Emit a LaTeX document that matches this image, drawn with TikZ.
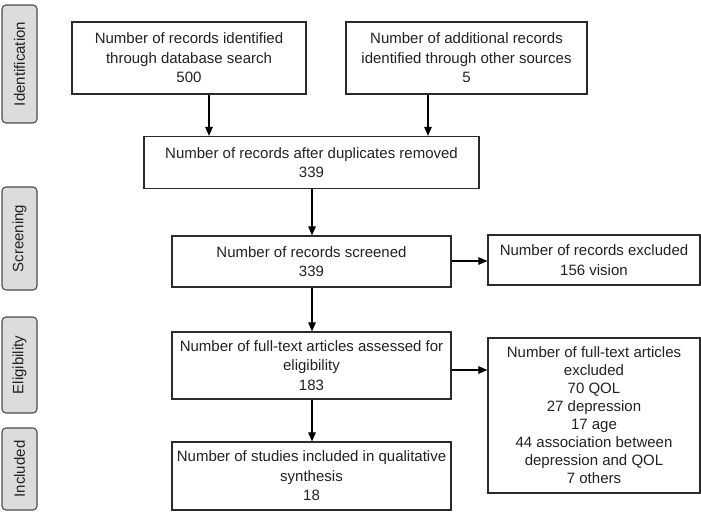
\documentclass[tikz,border=0pt]{standalone}
\usepackage{fontspec}
\setmainfont{Liberation Sans}
\usetikzlibrary{arrows.meta,calc}
\definecolor{boxline}{HTML}{2B2B2B}
\definecolor{labfill}{HTML}{DCDCDC}
\definecolor{labline}{HTML}{4A4A4A}
\definecolor{txt}{HTML}{222222}
\begin{document}
\begin{tikzpicture}[x=1pt,y=-1pt,
  box/.style={draw=boxline,line width=1.2pt,fill=white,align=center,inner sep=0pt,
    text=txt,font=\fontsize{15}{19.5}\selectfont},
  stage/.style={draw=labline,line width=1.1pt,fill=labfill,rounded corners=4pt,
    inner sep=0pt,minimum width=35pt,text=txt,font=\fontsize{15}{18}\selectfont},
  stagetext/.style={rotate=90,text=txt,font=\fontsize{15}{18}\selectfont},
  arr/.style={draw=black,line width=1.1pt,-{Triangle[length=9pt,width=7.5pt]}}]
\useasboundingbox (0,0) rectangle (701,513);
\fill[white] (0,0) rectangle (701,513);
% stage labels
\node[stage,minimum height=118pt] (l1) at (19.5,64) {};
\node[stagetext] (t1) at (l1.center) {Identification};
\node[stage,minimum height=103pt] (l2) at (19.5,238.5) {};
\node[stagetext] (t2) at (l2.center) {Screening};
\node[stage,minimum height=96pt] (l3) at (19.5,365) {};
\node[stagetext] (t3) at (l3.center) {Eligibility};
\node[stage,minimum height=82pt] (l4) at (19.5,469) {};
\node[stagetext] (t4) at (l4.center) {Included};
% boxes
\node[box,minimum width=234pt,minimum height=72pt] (b1) at (189,58)
  {Number of records identified\\through database search\\500};
\node[box,minimum width=241pt,minimum height=72pt] (b2) at (466.5,58)
  {Number of additional records\\identified through other sources\\5};
\node[box,minimum width=335pt,minimum height=52pt] (b3) at (311.5,162.5)
  {Number of records after duplicates removed\\339};
\node[box,minimum width=279pt,minimum height=51pt] (b4) at (311.5,261.5)
  {Number of records screened\\339};
\node[box,minimum width=212pt,minimum height=50pt] (b5) at (594,260)
  {Number of records excluded\\156 vision};
\node[box,minimum width=279pt,minimum height=67pt] (b6) at (311.5,365.5)
  {Number of full-text articles assessed for\\eligibility\\183};
\node[box,minimum width=212pt,minimum height=155pt,font=\fontsize{15}{18}\selectfont] (b7) at (594,415.5)
  {Number of full-text articles\\excluded\\70 QOL\\27 depression\\17 age\\44 association between\\depression and QOL\\7 others};
\node[box,minimum width=279pt,minimum height=68pt] (b8) at (311.5,476)
  {Number of studies included in qualitative\\synthesis\\18};
% connectors
\coordinate (xa) at (209,0);
\coordinate (xb) at (428,0);
\coordinate (xc) at (312,0);
\coordinate (ya) at (0,261);
\coordinate (yb) at (0,370);
\draw[arr] (b1.south -| xa) -- (b3.north -| xa);
\draw[arr] (b2.south -| xb) -- (b3.north -| xb);
\draw[arr] (b3.south -| xc) -- (b4.north -| xc);
\draw[arr] (b4.south -| xc) -- (b6.north -| xc);
\draw[arr] (b6.south -| xc) -- (b8.north -| xc);
\draw[arr] (b4.east |- ya) -- (b5.west |- ya);
\draw[arr] (b6.east |- yb) -- (b7.west |- yb);
\end{tikzpicture}
\end{document}
